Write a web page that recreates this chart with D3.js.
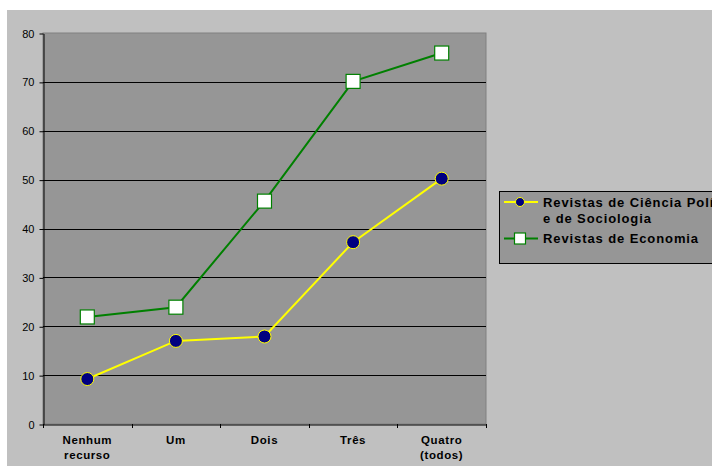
<!DOCTYPE html>
<html>
<head>
<meta charset="utf-8">
<script src="https://cdn.jsdelivr.net/npm/d3@7"></script>
<style>
  body { margin: 0; background: #ffffff; }
  svg { display: block; font-family: Arial, 'Liberation Sans', sans-serif; }
</style>
</head>
<body>
<script>
const categories = ['Nenhum\nrecurso', 'Um', 'Dois', 'Três', 'Quatro\n(todos)']
const cienciaPolitica = [9.2, 17.0, 17.9, 37.2, 50.2]
const economia = [21.9, 23.9, 45.6, 70.1, 75.9]
const yTicks = [0, 10, 20, 30, 40, 50, 60, 70, 80]

const w = 712
const h = 472
const plot = { left: 43, right: 486, top: 33, bottom: 424 }

const svg = d3.select('body')
    .append('svg')
        .attr('width', w)
        .attr('height', h)

// chart area
svg.append('rect')
    .attr('x', 7)
    .attr('y', 10)
    .attr('width', w - 7)
    .attr('height', 456)
    .attr('fill', '#c0c0c0')

// plot area
svg.append('rect')
    .attr('x', plot.left)
    .attr('y', plot.top)
    .attr('width', plot.right - plot.left)
    .attr('height', plot.bottom - plot.top)
    .attr('fill', '#969696')
    .attr('stroke', '#808080')
    .attr('stroke-width', 1)

const xScale = d3.scaleBand()
    .domain(categories)
    .range([plot.left, plot.right])

const yScale = d3.scaleLinear()
    .domain([0, 80])
    .range([plot.bottom, plot.top])

// gridlines
svg.selectAll('.grid')
    .data(yTicks.filter(t => t > 0 && t < 80))
    .enter()
    .append('line')
        .attr('class', 'grid')
        .attr('x1', plot.left)
        .attr('x2', plot.right)
        .attr('y1', d => Math.round(yScale(d)) + 0.5)
        .attr('y2', d => Math.round(yScale(d)) + 0.5)
        .attr('stroke', '#000')
        .attr('stroke-width', 1)

// y axis
const yAxis = svg.append('g')
    .attr('transform', `translate(${plot.left + 0.5}, 0.5)`)
    .call(d3.axisLeft(yScale).tickValues(yTicks).tickSize(4).tickPadding(5).tickSizeOuter(0))
yAxis.select('.domain').attr('stroke', '#000')
yAxis.selectAll('.tick line').attr('stroke', '#000')
yAxis.selectAll('.tick text')
    .attr('font-size', 11)
    .attr('font-family', 'Arial, Liberation Sans, sans-serif')
    .attr('fill', '#000')

// x axis
const xAxis = svg.append('g')
    .attr('transform', `translate(0.5, ${plot.bottom + 0.5})`)
    .call(d3.axisBottom(xScale).tickSize(0).tickFormat(''))
xAxis.select('.domain').attr('stroke', '#000')

// x ticks at category boundaries
svg.selectAll('.xtick')
    .data(categories.concat(['end']))
    .enter()
    .append('line')
        .attr('class', 'xtick')
        .attr('x1', (d, i) => Math.round(plot.left + i * xScale.step()) + 0.5)
        .attr('x2', (d, i) => Math.round(plot.left + i * xScale.step()) + 0.5)
        .attr('y1', plot.bottom)
        .attr('y2', plot.bottom + 4)
        .attr('stroke', '#000')

// x labels
svg.selectAll('.xlabel')
    .data(categories)
    .enter()
    .append('text')
        .attr('class', 'xlabel')
        .attr('text-anchor', 'middle')
        .attr('font-size', 11.5)
        .attr('font-weight', 'bold')
        .attr('letter-spacing', 0.6)
        .attr('fill', '#000')
        .each(function (d) {
            const lines = d.split('\n')
            d3.select(this).selectAll('tspan')
                .data(lines)
                .enter()
                .append('tspan')
                    .attr('x', xScale(d) + xScale.bandwidth() / 2)
                    .attr('y', (l, i) => 444 + i * 15)
                    .text(l => l)
        })

const cx = d => xScale(d) + xScale.bandwidth() / 2

const line = d3.line()
    .x((v, i) => cx(categories[i]))
    .y(v => yScale(v))

// Economia series
svg.append('path')
    .attr('d', line(economia))
    .attr('fill', 'none')
    .attr('stroke', '#008000')
    .attr('stroke-width', 2)

// Ciência Política series
svg.append('path')
    .attr('d', line(cienciaPolitica))
    .attr('fill', 'none')
    .attr('stroke', '#ffff00')
    .attr('stroke-width', 2)

svg.selectAll('.sq')
    .data(economia)
    .enter()
    .append('rect')
        .attr('class', 'sq')
        .attr('x', (v, i) => cx(categories[i]) - 7)
        .attr('y', v => yScale(v) - 7)
        .attr('width', 14)
        .attr('height', 14)
        .attr('fill', '#fff')
        .attr('stroke', '#008000')
        .attr('stroke-width', 1.2)

svg.selectAll('.dot')
    .data(cienciaPolitica)
    .enter()
    .append('circle')
        .attr('class', 'dot')
        .attr('cx', (v, i) => cx(categories[i]))
        .attr('cy', v => yScale(v))
        .attr('r', 6.5)
        .attr('fill', '#000080')
        .attr('stroke', '#ffff00')
        .attr('stroke-width', 1)

// legend
const legend = svg.append('g')

legend.append('rect')
    .attr('x', 499.5)
    .attr('y', 191.5)
    .attr('width', 240)
    .attr('height', 72)
    .attr('fill', '#969696')
    .attr('stroke', '#000')
    .attr('stroke-width', 1)

legend.append('line')
    .attr('x1', 504).attr('x2', 538)
    .attr('y1', 202).attr('y2', 202)
    .attr('stroke', '#ffff00').attr('stroke-width', 2)
legend.append('circle')
    .attr('cx', 520).attr('cy', 202).attr('r', 4.5)
    .attr('fill', '#000080').attr('stroke', '#ffff00').attr('stroke-width', 1)

legend.append('line')
    .attr('x1', 504).attr('x2', 538)
    .attr('y1', 238.5).attr('y2', 238.5)
    .attr('stroke', '#008000').attr('stroke-width', 2)
legend.append('rect')
    .attr('x', 514.5).attr('y', 233).attr('width', 11).attr('height', 11)
    .attr('fill', '#fff').attr('stroke', '#008000').attr('stroke-width', 1.2)

const legendText = legend.append('text')
    .attr('font-size', 13)
    .attr('font-weight', 'bold')
    .attr('letter-spacing', 0.9)
    .attr('fill', '#000')
legendText.append('tspan').attr('x', 543).attr('y', 206.5).text('Revistas de Ciência Política')
legendText.append('tspan').attr('x', 543).attr('y', 222.5).text('e de Sociologia')

legend.append('text')
    .attr('x', 543)
    .attr('y', 243)
    .attr('font-size', 13)
    .attr('font-weight', 'bold')
    .attr('letter-spacing', 0.9)
    .attr('fill', '#000')
    .text('Revistas de Economia')
</script>
</body>
</html>
